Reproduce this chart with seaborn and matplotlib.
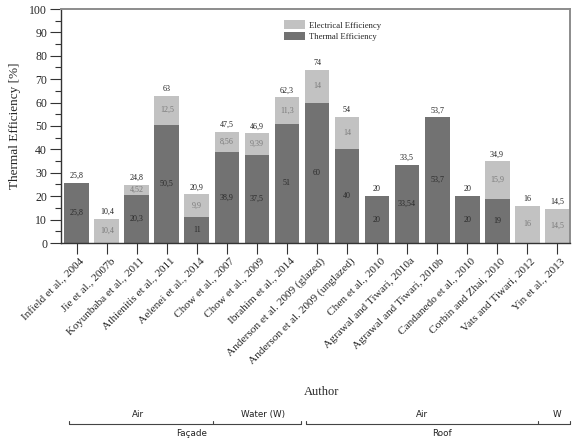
import matplotlib
matplotlib.use("Agg")
import matplotlib.pyplot as plt
import seaborn as sns
import pandas as pd
import numpy as np
from matplotlib.ticker import MultipleLocator
from matplotlib.patches import Patch

authors = ["Infield et al., 2004", "Jie et al., 2007b", "Koyunbaba et al., 2011",
           "Athienitis et al., 2011", "Aelenei et al., 2014", "Chow et al., 2007",
           "Chow et al., 2009", "Ibrahim et al., 2014", "Anderson et al. 2009 (glazed)",
           "Anderson et al. 2009 (unglazed)", "Chen et al., 2010", "Agrawal and Tiwari, 2010a",
           "Agrawal and Tiwari, 2010b", "Candanedo et al., 2010", "Corbin and Zhai, 2010",
           "Vats and Tiwari, 2012", "Yin et al., 2013"]
thermal = [25.8, 0, 20.3, 50.5, 11, 38.9, 37.5, 51, 60, 40, 20, 33.54, 53.7, 20, 19, 0, 0]
electrical = [0, 10.4, 4.52, 12.5, 9.9, 8.56, 9.39, 11.3, 14, 14, 0, 0, 0, 0, 15.9, 16, 14.5]
thermal_labels = ["25,8", "", "20,3", "50,5", "11", "38,9", "37,5", "51", "60", "40",
                  "20", "33,54", "53,7", "20", "19", "", ""]
electrical_labels = ["", "10,4", "4,52", "12,5", "9,9", "8,56", "9,39", "11,3", "14", "14",
                     "", "", "", "", "15,9", "16", "14,5"]
total_labels = ["25,8", "10,4", "24,8", "63", "20,9", "47,5", "46,9", "62,3", "74", "54",
                "20", "33,5", "53,7", "20", "34,9", "16", "14,5"]

groups_top = ["Air", "Water (W)", "Air", "W"]
groups_bottom = ["Façade", "Roof"]

df = pd.DataFrame({"Author": authors, "Thermal": thermal, "Electrical": electrical})
df["Total"] = df["Thermal"] + df["Electrical"]

sns.set_style("ticks")
plt.rcParams["font.family"] = ["Liberation Serif", "DejaVu Serif"]

DARK = "#727272"
LIGHT = "#c2c2c2"

fig = plt.figure(figsize=(5.76, 4.48), dpi=100)
ax = fig.add_axes([61/576, 1-243/448, (570-61)/576, (243-9)/448])

sns.barplot(data=df, x="Author", y="Total", color=LIGHT, saturation=1, width=0.83,
            ax=ax, linewidth=0)
sns.barplot(data=df, x="Author", y="Thermal", color=DARK, saturation=1, width=0.83,
            ax=ax, linewidth=0)

ax.set_xlim(-0.53, 16.43)
ax.set_ylim(0, 100)
ax.yaxis.set_major_locator(MultipleLocator(10))
ax.yaxis.set_minor_locator(MultipleLocator(5))
ax.tick_params(axis="y", which="major", length=8, width=0.8, color="#333333", labelsize=8.5, pad=2)
ax.tick_params(axis="y", which="minor", length=4, width=0.8, color="#333333")
ax.tick_params(axis="x", length=8, width=0.8, color="#333333", labelsize=8.2, pad=1.5)
ax.set_xticks(range(len(authors)))
ax.set_xticklabels(authors, rotation=45, ha="right", rotation_mode="anchor")
for lab in ax.get_xticklabels():
    lab.set_transform(lab.get_transform() + matplotlib.transforms.ScaledTranslation(3/100, 0, fig.dpi_scale_trans))
ax.set_xlabel("")
ax.set_ylabel("Thermal Efficiency [%]", fontsize=9.5, labelpad=6)

for side in ["top", "right"]:
    ax.spines[side].set_visible(True)
    ax.spines[side].set_color("#8c8c8c")
    ax.spines[side].set_linewidth(1.4)
for side in ["left", "bottom"]:
    ax.spines[side].set_color("#333333")
    ax.spines[side].set_linewidth(1.0)

for i in range(len(authors)):
    t = thermal[i]
    e = electrical[i]
    if thermal_labels[i]:
        ax.text(i, t/2, thermal_labels[i], ha="center", va="center", fontsize=5.8, color="#2a2a2a")
    if electrical_labels[i]:
        ax.text(i, t + e/2, electrical_labels[i], ha="center", va="center", fontsize=5.8, color="#7a7a7a")
    ax.annotate(total_labels[i], (i, t + e), xytext=(0, 2), textcoords="offset points",
                ha="center", va="bottom", fontsize=5.8, color="#222222")

handles = [Patch(facecolor=LIGHT, edgecolor="none", label="Electrical Efficiency"),
           Patch(facecolor=DARK, edgecolor="none", label="Thermal Efficiency")]
ax.legend(handles=handles, loc="upper left", bbox_to_anchor=((281-61)/509, 1-8/234),
          frameon=False, fontsize=6.2, handlelength=2.4, handleheight=1.1,
          handletextpad=0.5, labelspacing=0.25, borderaxespad=0)

fig.text(322/576, 1-392/448, "Author", ha="center", va="center", fontsize=9)

sans = ["DejaVu Sans"]
top_pos = [138, 263, 422, 557]
for name, xp in zip(groups_top, top_pos):
    fig.text(xp/576, 1-414/448, name, ha="center", va="center", fontsize=6.3, family=sans, color="#222222")
bot_pos = [192, 442]
for name, xp in zip(groups_bottom, bot_pos):
    fig.text(xp/576, 1-433/448, name, ha="center", va="center", fontsize=6.3, family=sans, color="#222222")

yl = 1-424/448
th = 3/448
lc = "#444444"
for x0, x1, xm in [(69, 301, 213), (306, 570, 538)]:
    fig.add_artist(plt.Line2D([x0/576, x1/576], [yl, yl], color=lc, lw=0.8, transform=fig.transFigure))
    for xx in (x0, x1, xm):
        fig.add_artist(plt.Line2D([xx/576, xx/576], [yl, yl+th], color=lc, lw=0.8, transform=fig.transFigure))

fig.savefig("out.png", dpi=100)
